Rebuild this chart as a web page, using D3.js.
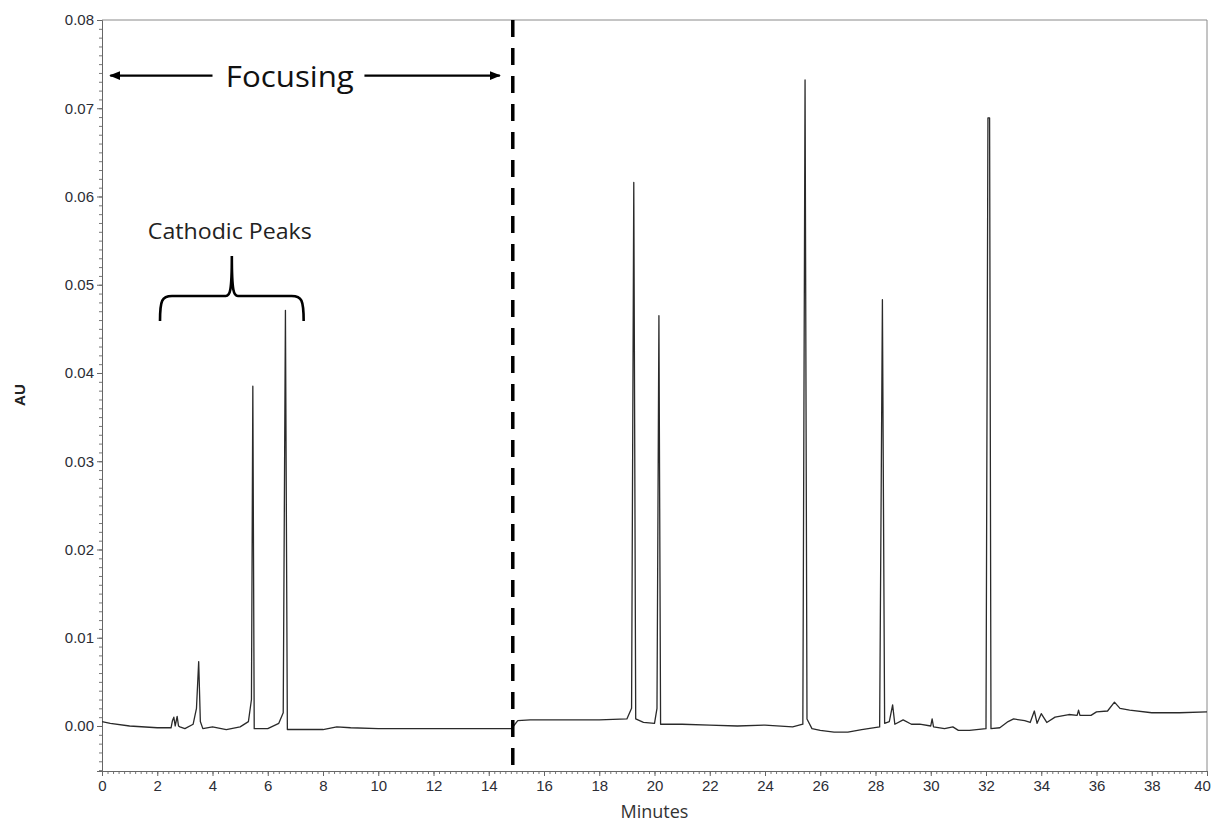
<!DOCTYPE html>
<html>
<head>
<meta charset="utf-8">
<script src="https://d3js.org/d3.v7.min.js"></script>
<style>
  body { margin: 0; background: #fff; }
  svg { display: block; }
</style>
</head>
<body>
<div id="chart"></div>
<script>
// Electropherogram trace: [minutes, AU]
var traceTime = [
  0, 0.3, 1, 2, 2.5, 2.55, 2.6, 2.65, 2.72, 2.77, 2.82, 3.0, 3.3, 3.42, 3.5, 3.56, 3.65,
  4, 4.5, 5, 5.3, 5.41, 5.46, 5.51, 5.6, 6, 6.4, 6.56, 6.64, 6.71, 6.8, 7, 8, 8.5, 9, 10, 12, 14, 14.85,
  14.9, 15.05, 15.5, 17, 18, 19, 19.17, 19.25, 19.32, 19.6, 20.0, 20.09, 20.16, 20.22, 21, 22, 23, 24, 25,
  25.37, 25.45, 25.52, 25.7, 26, 26.5, 27, 27.5, 28.15, 28.25, 28.33, 28.5, 28.62, 28.7, 29, 29.3, 29.6,
  30, 30.05, 30.1, 30.5, 30.8, 31.0, 31.4, 32.0, 32.07, 32.13, 32.18, 32.5, 32.8, 33.0, 33.4, 33.6,
  33.75, 33.85, 34, 34.2, 34.5, 35, 35.3, 35.35, 35.4, 35.8, 36, 36.4, 36.65, 36.85, 37.2, 38, 39, 40
];
var traceAU = [
  0.0005, 0.0003, 0.0000, -0.0002, -0.0002, 0.0006, 0.0010, 0.0000, 0.0011, 0.0000, -0.0001, -0.0003, 0.0002, 0.0020, 0.0073, 0.0005, -0.0003,
  -0.0001, -0.0004, -0.0001, 0.0005, 0.0030, 0.0385, -0.0003, -0.0003, -0.0003, 0.0003, 0.0015, 0.0471, -0.0004, -0.0004, -0.0004, -0.0004, -0.0001, -0.0002, -0.0003, -0.0003, -0.0003, -0.0003,
  0.0000, 0.0006, 0.0007, 0.0007, 0.0007, 0.0008, 0.0020, 0.0616, 0.0008, 0.0004, 0.0003, 0.0020, 0.0465, 0.0002, 0.0002, 0.0001, 0.0000, 0.0001, -0.0001,
  0.0002, 0.0732, 0.0008, -0.0003, -0.0005, -0.0007, -0.0007, -0.0004, -0.0001, 0.0483, 0.0003, 0.0005, 0.0024, 0.0002, 0.0007, 0.0002, 0.0002,
  0.0000, 0.0008, -0.0001, -0.0003, -0.0001, -0.0005, -0.0005, -0.0003, 0.0689, 0.0689, -0.0003, -0.0002, 0.0005, 0.0008, 0.0006, 0.0004,
  0.0017, 0.0003, 0.0014, 0.0004, 0.0010, 0.0013, 0.0012, 0.0018, 0.0012, 0.0012, 0.0016, 0.0017, 0.0027, 0.0020, 0.0018, 0.0015, 0.0015, 0.0016
];
var xTicks = d3.range(0, 41, 2);
var yTicks = [0, 0.01, 0.02, 0.03, 0.04, 0.05, 0.06, 0.07, 0.08];
var focusEnd = 14.87;   // end of focusing step (minutes)
var cathodicRange = [2.1, 7.3];

var trace = traceTime.map(function (t, i) { return { t: t, au: traceAU[i] }; });

var W = 1211, H = 823;
var margin = { top: 20, right: 4, bottom: 52, left: 102 };
var width = W - margin.left - margin.right;
var height = H - margin.top - margin.bottom;

var svg = d3.select("#chart").append("svg")
    .attr("width", W)
    .attr("height", H);

var g = svg.append("g")
    .attr("transform", "translate(" + margin.left + "," + margin.top + ")");

var x = d3.scaleLinear().domain([0, 40]).range([0, width]);
var y = d3.scaleLinear().domain([-0.0051, 0.08]).range([height, 0]);

// frame (top + right)
g.append("path")
    .attr("d", "M0,0H" + width + "V" + height)
    .attr("fill", "none")
    .attr("stroke", "#8a8a8a")
    .attr("stroke-width", 1);

// minor ticks
g.append("g")
    .attr("transform", "translate(0," + height + ")")
    .call(d3.axisBottom(x).tickValues(d3.range(0, 40.01, 0.2)).tickSize(3).tickFormat(""))
    .call(function (s) { s.select(".domain").remove(); s.selectAll("line").attr("stroke", "#777"); });
g.append("g")
    .call(d3.axisLeft(y).tickValues(d3.range(-5, 81).map(function (d) { return d / 1000; })).tickSize(3).tickFormat(""))
    .call(function (s) { s.select(".domain").remove(); s.selectAll("line").attr("stroke", "#777"); });

// major axes
var xAxis = g.append("g")
    .attr("transform", "translate(0," + height + ")")
    .call(d3.axisBottom(x).tickValues(xTicks).tickSize(5).tickPadding(4).tickFormat(d3.format("d")));
var yAxis = g.append("g")
    .call(d3.axisLeft(y).tickValues(yTicks).tickSize(5).tickPadding(3).tickFormat(d3.format(".2f")));

[xAxis, yAxis].forEach(function (a) {
  a.attr("font-size", null).attr("font-family", null);
  a.select(".domain").attr("stroke", "#666");
  a.selectAll(".tick line").attr("stroke", "#666");
  a.selectAll("text")
    .style("font-family", "'Liberation Sans', Arial, sans-serif")
    .style("font-size", "15px")
    .attr("fill", "#2c2d35");
});
// keep the last x label inside the page
xAxis.selectAll(".tick text").filter(function (d) { return d === 40; }).attr("dx", -5);

// trace
var line = d3.line()
    .x(function (d) { return x(d.t); })
    .y(function (d) { return y(d.au); });

g.append("path")
    .datum(trace)
    .attr("d", line)
    .attr("fill", "none")
    .attr("stroke", "#2a2a2a")
    .attr("stroke-width", 1.3)
    .attr("stroke-linejoin", "round");

// focusing divider
g.append("line")
    .attr("x1", x(focusEnd)).attr("x2", x(focusEnd))
    .attr("y1", 0).attr("y2", height + 2)
    .attr("stroke", "#000")
    .attr("stroke-width", 3.5)
    .attr("stroke-dasharray", "17,11");

// Focusing arrows
var defs = svg.append("defs");
defs.append("marker")
    .attr("id", "arrow")
    .attr("viewBox", "0 0 10 10")
    .attr("refX", 9).attr("refY", 5)
    .attr("markerWidth", 5).attr("markerHeight", 5)
    .attr("orient", "auto-start-reverse")
    .append("path")
    .attr("d", "M0,1L10,5L0,9Z")
    .attr("fill", "#000");

var arrowY = y(0.0737);
g.append("line")
    .attr("x1", x(0.3)).attr("x2", x(4.0))
    .attr("y1", arrowY).attr("y2", arrowY)
    .attr("stroke", "#000").attr("stroke-width", 2.2)
    .attr("marker-start", "url(#arrow)");
g.append("line")
    .attr("x1", x(9.5)).attr("x2", x(14.4))
    .attr("y1", arrowY).attr("y2", arrowY)
    .attr("stroke", "#000").attr("stroke-width", 2.2)
    .attr("marker-end", "url(#arrow)");

g.append("text")
    .attr("x", x(6.8))
    .attr("y", arrowY + 11)
    .attr("text-anchor", "middle")
    .attr("font-family", "Open Sans, sans-serif")
    .attr("font-size", 30)
    .attr("textLength", 128)
    .attr("lengthAdjust", "spacingAndGlyphs")
    .attr("fill", "#111")
    .text("Focusing");

// Cathodic peaks brace
var bx0 = x(cathodicRange[0]), bx1 = x(cathodicRange[1]);
var bm = (bx0 + bx1) / 2;
var bTop = 276, bBot = 301, bTip = 236;
g.append("path")
    .attr("d",
      "M" + bx0 + "," + bBot +
      "C" + bx0 + "," + (bTop + 4) + " " + (bx0 + 2) + "," + bTop + " " + (bx0 + 12) + "," + bTop +
      "H" + (bm - 6) +
      "C" + (bm - 2) + "," + bTop + " " + bm + "," + (bTop - 4) + " " + bm + "," + bTip +
      "C" + bm + "," + (bTop - 4) + " " + (bm + 2) + "," + bTop + " " + (bm + 6) + "," + bTop +
      "H" + (bx1 - 12) +
      "C" + (bx1 - 2) + "," + bTop + " " + bx1 + "," + (bTop + 4) + " " + bx1 + "," + bBot)
    .attr("fill", "none")
    .attr("stroke", "#000")
    .attr("stroke-width", 2.6);

g.append("text")
    .attr("x", bm - 2)
    .attr("y", 219)
    .attr("text-anchor", "middle")
    .attr("font-family", "Open Sans, sans-serif")
    .attr("font-size", 21)
    .attr("textLength", 164)
    .attr("lengthAdjust", "spacingAndGlyphs")
    .attr("fill", "#222")
    .text("Cathodic Peaks");

// axis titles
svg.append("text")
    .attr("transform", "translate(25," + (margin.top + y(0.0375)) + ") rotate(-90)")
    .attr("text-anchor", "middle")
    .attr("font-family", "Liberation Sans, Arial, sans-serif")
    .attr("font-weight", "bold")
    .attr("font-size", 15)
    .attr("fill", "#222")
    .text("AU");

svg.append("text")
    .attr("x", margin.left + width / 2)
    .attr("y", 818)
    .attr("text-anchor", "middle")
    .attr("font-family", "Open Sans, sans-serif")
    .attr("font-size", 18)
    .attr("fill", "#333")
    .text("Minutes");
</script>
</body>
</html>
